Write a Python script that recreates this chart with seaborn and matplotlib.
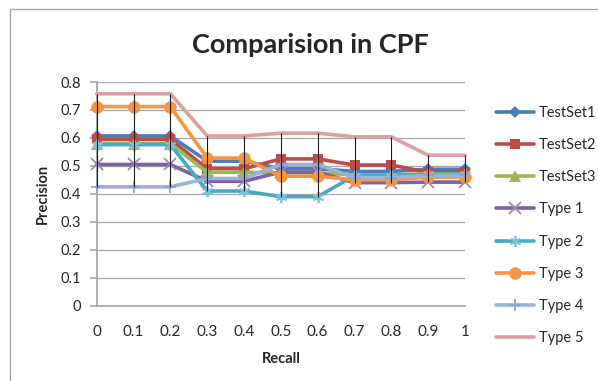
import matplotlib
matplotlib.use("Agg")
import matplotlib.pyplot as plt
import seaborn as sns
import pandas as pd
from matplotlib.patches import Rectangle

recall = [0, 0.1, 0.2, 0.3, 0.4, 0.5, 0.6, 0.7, 0.8, 0.9, 1]
tick_labels = ["0", "0.1", "0.2", "0.3", "0.4", "0.5", "0.6", "0.7", "0.8", "0.9", "1"]

testset1 = [0.607, 0.607, 0.607, 0.517, 0.517, 0.490, 0.490, 0.480, 0.480, 0.488, 0.488]
testset2 = [0.595, 0.595, 0.595, 0.490, 0.490, 0.525, 0.525, 0.503, 0.503, 0.477, 0.477]
testset3 = [0.580, 0.580, 0.580, 0.477, 0.477, 0.475, 0.475, 0.468, 0.468, 0.472, 0.472]
type1 = [0.505, 0.505, 0.505, 0.445, 0.445, 0.478, 0.478, 0.440, 0.440, 0.442, 0.442]
type2 = [0.576, 0.576, 0.576, 0.410, 0.410, 0.390, 0.390, 0.465, 0.465, 0.470, 0.470]
type3 = [0.712, 0.712, 0.712, 0.528, 0.528, 0.463, 0.463, 0.450, 0.450, 0.460, 0.460]
type4 = [0.425, 0.425, 0.425, 0.455, 0.455, 0.505, 0.505, 0.458, 0.458, 0.466, 0.466]
type5 = [0.758, 0.758, 0.758, 0.607, 0.607, 0.617, 0.617, 0.604, 0.604, 0.538, 0.538]

series_names = ["TestSet1", "TestSet2", "TestSet3", "Type 1", "Type 2", "Type 3", "Type 4", "Type 5"]
series_values = [testset1, testset2, testset3, type1, type2, type3, type4, type5]

colors = ["#4A7EBB", "#BE4B48", "#98B954", "#7D60A0", "#46AAC5", "#F59542", "#9BB3D5", "#D9A0A0"]
marker_colors = ["#4A7EBB", "#BE4B48", "#98B954", "#9A86C0", "#7CC4D8", "#F59542", "#8AA6CF", "#D9A0A0"]
markers = ["D", "s", "^", "x", (6, 2, 0), "o", "+", None]
msizes = [6, 7, 8, 8, 8, 9, 8, 0]

sns.set_theme(style="white")
plt.rcParams['font.family'] = ['Lato', 'DejaVu Sans']

fig = plt.figure(figsize=(5.98, 3.81), dpi=100)
ax = fig.add_axes([96.7 / 598, 1 - 305.7 / 381, (465 - 96.7) / 598, (305.7 - 82) / 381])

# chart-area border (Excel style)
fig.patches.append(Rectangle((10 / 598, -0.1), 1.2, 1 - 9 / 381 + 0.1, transform=fig.transFigure,
                             fill=False, edgecolor="#A6A6A6", linewidth=1.0))

df = pd.DataFrame({"Recall": recall})
for name, vals in zip(series_names, series_values):
    df[name] = vals

# high-low lines
lows = df[series_names].min(axis=1)
highs = df[series_names].max(axis=1)
ax.vlines(df["Recall"], lows, highs, color="#1a1a1a", linewidth=0.8, zorder=5, clip_on=False)

for name, col, mcol, mk, ms in zip(series_names, colors, marker_colors, markers, msizes):
    if mk is None:
        kw = dict(marker=None)
    elif mk in ("x", "+") or isinstance(mk, tuple):
        kw = dict(marker=mk, markersize=ms, markeredgewidth=1.3, markeredgecolor=mcol,
                  markerfacecolor=mcol)
    else:
        kw = dict(marker=mk, markersize=ms, markeredgewidth=0, markerfacecolor=mcol,
                  markeredgecolor=mcol)
    sns.lineplot(data=df, x="Recall", y=name, ax=ax, color=col, linewidth=2.6,
                 label=name, zorder=3, clip_on=False, **kw)

ax.set_xlim(0, 1)
ax.set_ylim(0, 0.8)
ax.set_xticks(recall)
ax.set_xticklabels(tick_labels, fontsize=11)
ax.set_yticks([0, 0.1, 0.2, 0.3, 0.4, 0.5, 0.6, 0.7, 0.8])
ax.set_yticklabels(["0", "0.1", "0.2", "0.3", "0.4", "0.5", "0.6", "0.7", "0.8"], fontsize=10.5)
ax.yaxis.grid(True, color="#A6A6A6", linewidth=0.9)
ax.xaxis.grid(False)
for s in ["top", "right"]:
    ax.spines[s].set_visible(False)
ax.spines["left"].set_color("#A6A6A6")
ax.spines["bottom"].set_color("#A6A6A6")
ax.tick_params(axis="y", length=5, color="#A6A6A6", pad=6, left=True)
ax.tick_params(axis="x", length=0, pad=14)
ax.set_xlabel("Recall", fontsize=10.5, fontweight="bold", labelpad=9)
ax.set_ylabel("Precision", fontsize=10.5, fontweight="bold", labelpad=8)

fig.text(310 / 598, 1 - 45 / 381, "Comparision in CPF", ha="center", va="center",
         fontsize=19.5, fontweight="bold")

ax.legend(loc="center left", bbox_to_anchor=(496 / 598, 1 - 225.5 / 381),
          bbox_transform=fig.transFigure, frameon=False, fontsize=10.5,
          handlelength=2.6, handletextpad=0.35, labelspacing=1.25, borderpad=0,
          borderaxespad=0)

fig.savefig("out.png", dpi=100)
